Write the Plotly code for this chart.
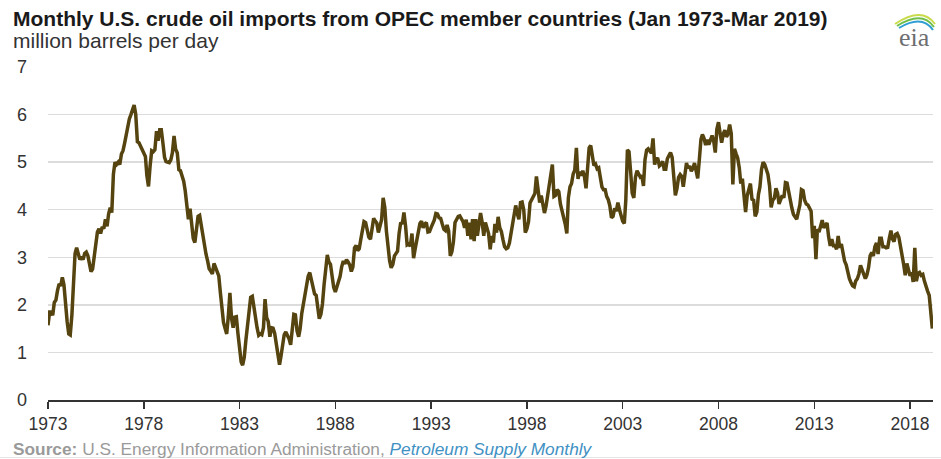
import pandas as pd
import plotly.graph_objects as go

# ---------------- data (million barrels per day, monthly, Jan 1973 - Mar 2019) ----------------
imports_1970s = [
    1.57, 1.85, 1.85, 1.78, 2.05, 2.10, 2.30, 2.44, 2.40, 2.58, 2.42, 1.95,   # 1973
    1.65, 1.39, 1.37, 1.78, 2.61, 3.08, 3.20, 3.10, 2.95, 3.01, 2.95, 3.08,   # 1974
    3.11, 3.03, 2.90, 2.70, 2.75, 3.02, 3.29, 3.53, 3.60, 3.50, 3.64, 3.60,   # 1975
    3.80, 3.65, 3.91, 4.04, 3.94, 4.75, 5.00, 4.95, 5.00, 4.95, 5.17, 5.24,   # 1976
    5.40, 5.60, 5.80, 5.91, 6.00, 6.14, 6.20, 6.00, 5.43, 5.41, 5.33, 5.25,   # 1977
    5.19, 5.12, 4.72, 4.49, 4.91, 5.24, 5.22, 5.26, 5.65, 5.45, 5.68, 5.68,   # 1978
    5.40, 5.10, 5.01, 4.99, 4.99, 5.05, 5.20, 5.55, 5.27, 5.20, 4.84, 4.82,   # 1979
]
imports_1980s = [
    4.72, 4.60, 4.40, 4.10, 3.80, 4.02, 3.70, 3.40, 3.31, 3.55, 3.86, 3.88,   # 1980
    3.64, 3.43, 3.22, 3.07, 2.93, 2.76, 2.71, 2.65, 2.87, 2.78, 2.72, 2.61,   # 1981
    2.25, 1.94, 1.63, 1.50, 1.39, 1.76, 2.25, 1.72, 1.52, 1.74, 1.75, 1.40,   # 1982
    1.06, 0.80, 0.73, 0.90, 1.25, 1.60, 1.92, 2.16, 2.18, 1.95, 1.63, 1.52,   # 1983
    1.36, 1.39, 1.37, 1.52, 2.12, 1.73, 1.65, 1.33, 1.52, 1.51, 1.40, 1.15,   # 1984
    0.95, 0.74, 0.92, 1.23, 1.37, 1.43, 1.36, 1.29, 1.16, 1.46, 1.80, 1.79,   # 1985
    1.45, 1.33, 1.50, 1.82, 2.00, 2.25, 2.46, 2.60, 2.68, 2.55, 2.35, 2.23,   # 1986
    2.20, 1.95, 1.71, 1.80, 2.02, 2.43, 2.83, 3.05, 2.90, 2.85, 2.60, 2.37,   # 1987
    2.27, 2.40, 2.50, 2.60, 2.80, 2.92, 2.86, 2.95, 2.90, 2.84, 2.70, 2.80,   # 1988
    3.20, 3.25, 3.14, 3.18, 3.38, 3.60, 3.75, 3.73, 3.55, 3.42, 3.38, 3.62,   # 1989
]
imports_1990s = [
    3.82, 3.76, 3.72, 3.52, 3.65, 3.79, 4.25, 4.05, 3.55, 3.14, 2.93, 2.78,   # 1990
    2.85, 3.03, 3.07, 3.13, 3.50, 3.73, 3.70, 3.94, 3.66, 3.26, 3.28, 3.23,   # 1991
    3.50, 2.98, 3.17, 3.38, 3.51, 3.71, 3.76, 3.62, 3.70, 3.73, 3.53, 3.54,   # 1992
    3.63, 3.70, 3.78, 3.92, 3.91, 3.83, 3.82, 3.70, 3.59, 3.56, 3.68, 3.55,   # 1993
    3.03, 3.12, 3.32, 3.73, 3.80, 3.86, 3.87, 3.81, 3.75, 3.62, 3.79, 3.45,   # 1994
    3.73, 3.38, 3.80, 3.34, 3.80, 3.45, 3.66, 3.93, 3.73, 3.45, 3.73, 3.59,   # 1995
    3.50, 3.17, 3.45, 3.31, 3.70, 3.52, 3.85, 3.62, 3.54, 3.37, 3.22, 3.18,   # 1996
    3.20, 3.30, 3.48, 3.71, 3.98, 4.09, 3.92, 3.80, 4.15, 4.16, 4.00, 3.52,   # 1997
    3.60, 3.75, 4.14, 4.21, 4.28, 4.34, 4.70, 4.48, 4.15, 4.30, 4.10, 3.93,   # 1998
    4.08, 4.31, 4.50, 4.75, 4.95, 4.28, 4.30, 4.42, 4.38, 4.12, 3.98, 3.86,   # 1999
]
imports_2000s = [
    3.70, 3.50, 4.25, 4.48, 4.55, 4.75, 4.83, 5.30, 4.65, 4.80, 4.72, 4.82,   # 2000
    4.70, 4.45, 4.95, 5.30, 5.35, 5.15, 4.93, 4.96, 4.86, 4.88, 4.72, 4.48,   # 2001
    4.42, 4.42, 4.28, 4.21, 4.08, 3.83, 3.86, 4.03, 3.97, 4.15, 4.00, 3.85,   # 2002
    3.76, 3.71, 4.20, 5.26, 5.22, 4.80, 4.35, 4.25, 4.68, 4.82, 4.76, 4.69,   # 2003
    4.72, 4.50, 5.05, 5.25, 5.28, 5.23, 5.19, 5.50, 4.95, 5.08, 5.07, 4.92,   # 2004
    4.95, 5.02, 4.85, 4.85, 5.07, 5.14, 5.20, 5.10, 4.62, 4.30, 4.45, 4.68,   # 2005
    4.74, 4.70, 4.48, 4.75, 4.98, 4.87, 4.92, 4.81, 4.87, 4.98, 4.82, 4.66,   # 2006
    5.05, 5.48, 5.58, 5.50, 5.36, 5.47, 5.37, 5.49, 5.56, 5.45, 5.20, 5.69,   # 2007
    5.84, 5.61, 5.41, 5.59, 5.67, 5.53, 5.59, 5.79, 5.60, 4.53, 5.28, 5.18,   # 2008
    5.09, 4.88, 4.55, 4.65, 4.35, 3.95, 4.29, 4.40, 4.55, 4.22, 4.20, 3.86,   # 2009
]
imports_2010s = [
    3.95, 4.32, 4.48, 4.85, 5.00, 4.95, 4.86, 4.74, 4.50, 4.05, 4.20, 4.24,   # 2010
    4.45, 4.35, 4.12, 4.20, 4.30, 4.25, 4.57, 4.56, 4.38, 4.15, 4.03, 3.90,   # 2011
    3.83, 3.80, 3.95, 4.10, 4.42, 4.40, 4.20, 4.12, 4.10, 4.03, 3.97, 3.40,   # 2012
    3.66, 2.96, 3.59, 3.53, 3.65, 3.78, 3.62, 3.68, 3.72, 3.43, 3.24, 3.38,   # 2013
    3.24, 3.24, 3.17, 3.45, 3.20, 3.28, 3.08, 2.92, 2.84, 2.68, 2.55, 2.47,   # 2014
    2.40, 2.38, 2.50, 2.55, 2.65, 2.83, 2.73, 2.66, 2.55, 2.63, 2.78, 3.03,   # 2015
    3.10, 3.03, 3.22, 3.30, 3.07, 3.40, 3.40, 3.22, 3.22, 3.20, 3.21, 3.40,   # 2016
    3.56, 3.38, 3.33, 3.48, 3.50, 3.42, 3.26, 3.05, 2.85, 2.62, 2.87, 2.74,   # 2017
    2.61, 2.68, 2.48, 3.20, 2.50, 2.66, 2.68, 2.62, 2.64, 2.50, 2.36, 2.29,   # 2018
    2.20, 1.90, 1.50,                                                         # 2019
]

tick_years = [1973, 1978, 1983, 1988, 1993, 1998, 2003, 2008, 2013, 2018]
y_ticks = [0, 1, 2, 3, 4, 5, 6, 7]

title_text = "Monthly U.S. crude oil imports from OPEC member countries (Jan 1973-Mar 2019)"
unit_text = "million barrels per day"
source_text = ("<b>Source:</b> U.S. Energy Information Administration, "
               "<span style='color:#3f91c3'><i>Petroleum Supply Monthly</i></span>")

values = imports_1970s + imports_1980s + imports_1990s + imports_2000s + imports_2010s
dates = pd.date_range("1973-01-01", periods=len(values), freq="MS")

# ---------------- layout geometry ----------------
W, H = 941, 459
L, R, T, B = 48, 8, 67, 59
PW, PH = W - L - R, H - T - B


def px(x):
    return (x - L) / PW


def py(y):
    return (H - B - y) / PH


FONT = "Liberation Sans, Arial, Helvetica, sans-serif"

fig = go.Figure()
fig.add_trace(go.Scatter(
    x=dates, y=values, mode="lines",
    line=dict(color="#55440f", width=3.5),
    hoverinfo="skip", showlegend=False,
))

fig.update_layout(
    width=W, height=H,
    margin=dict(l=L, r=R, t=T, b=B),
    paper_bgcolor="white", plot_bgcolor="white",
    font=dict(family=FONT, color="#333333"),
    xaxis=dict(
        type="date",
        range=["1973-01-01", "2019-03-14"],
        tickvals=[pd.Timestamp(f"{yr}-01-01") for yr in tick_years],
        ticktext=[str(yr) for yr in tick_years],
        ticks="outside", ticklen=7, tickwidth=1.5, tickcolor="#333333",
        showline=True, linecolor="#333333", linewidth=1.5,
        showgrid=False, zeroline=False,
        tickfont=dict(size=17.5, color="#333333", family=FONT),
        fixedrange=True,
    ),
    yaxis=dict(
        range=[0, 7],
        tickvals=y_ticks,
        ticktext=[str(v) for v in y_ticks],
        showgrid=True, gridcolor="#dcdcdc", gridwidth=1.5,
        zeroline=False, showline=False, ticks="",
        ticklabelstandoff=20,
        tickfont=dict(size=18, color="#333333", family=FONT),
        fixedrange=True,
    ),
)

annotations = [
    dict(text="<b>" + title_text + "</b>", x=px(11), y=py(18),
         font=dict(size=21, color="#1a1a1a", family=FONT)),
    dict(text=unit_text, x=px(11), y=py(41),
         font=dict(size=21, color="#333333", family=FONT)),
    dict(text=source_text, x=px(11), y=py(449),
         font=dict(size=17.3, color="#9a9a9a", family=FONT)),
    dict(text="eia", x=px(914), y=py(37), xanchor="center",
         font=dict(size=26, color="#6d6e71", family="Liberation Serif, DejaVu Serif, serif")),
]
for a in annotations:
    a.setdefault("xanchor", "left")
    a.update(xref="paper", yref="paper", yanchor="middle", showarrow=False)
fig.update_layout(annotations=annotations)


def arc(x0, y0, cx, cy, x1, y1, color, width):
    return dict(
        type="path", xref="paper", yref="paper",
        path=f"M {px(x0)},{py(y0)} Q {px(cx)},{py(cy)} {px(x1)},{py(y1)}",
        line=dict(color=color, width=width), layer="above",
    )


shapes = [
    arc(895, 24, 922, 6, 935, 24, "#c9da4a", 2.0),
    arc(897, 26, 922, 10, 934, 27, "#6fbe4a", 2.0),
    arc(899, 28, 922, 14, 933, 30, "#2f9fd3", 2.0),
    dict(type="line", xref="paper", yref="paper",
         x0=px(0), x1=px(W), y0=py(457.5), y1=py(457.5),
         line=dict(color="#e6e6e6", width=1)),
]
fig.update_layout(shapes=shapes)

fig.write_html(
    "out.html",
    config={"displayModeBar": False, "staticPlot": True},
    post_script="document.body.style.margin='0';document.body.style.padding='0';",
)
